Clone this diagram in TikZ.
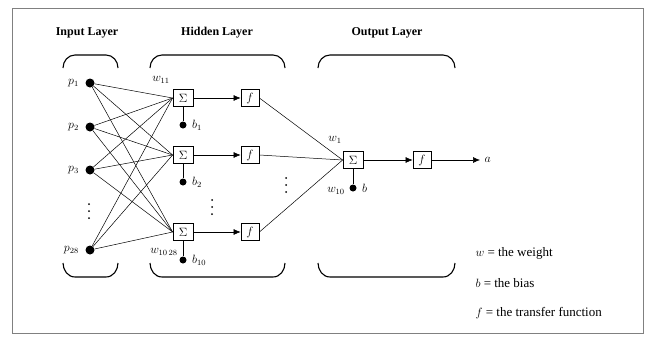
\documentclass[tikz,border=0pt]{standalone}
\usepackage{fontspec}
\setmainfont{Liberation Serif}
\usetikzlibrary{positioning, arrows.meta}

\tikzset{
  sumbox/.style={draw, thick, minimum width=20pt, minimum height=17pt, inner sep=0pt, fill=white},
  tfbox/.style={draw, thick, minimum width=18pt, minimum height=17pt, inner sep=0pt, fill=white},
  indot/.style={circle, fill, inner sep=0pt, minimum size=9pt},
  bdot/.style={circle, fill, inner sep=0pt, minimum size=7pt},
  layer/.style={font=\fontsize{12}{14}\selectfont\bfseries},
  legend/.style={anchor=west, font=\fontsize{13}{15}\selectfont},
  brace/.style={line width=1.1pt},
  conn/.style={line width=0.5pt},
  sig/.style={-{Latex[length=7pt,width=6pt]}, line width=0.6pt}
}

\begin{document}
\begin{tikzpicture}[x=1pt, y=-1pt, every node/.style={font=\fontsize{12}{14}\selectfont}]
      \useasboundingbox (0,0) rectangle (650,340);
      \draw[gray, line width=1pt] (12,8) rectangle (643,333);

      % layer titles
      \node[layer] (tin) at (87, 33) {Input Layer};
      \node[layer] (thid) at (217, 33) {Hidden Layer};
      \node[layer] (tout) at (387, 33) {Output Layer};

      % braces
      \foreach \a/\b in {63/118, 150/285, 318/455} {
        \draw[brace] (\a,68) to[out=90, in=180] (\a+12,55) -- (\b-12,55) to[out=0, in=90] (\b,68);
        \draw[brace] (\a,263) to[out=-90, in=180] (\a+12,277) -- (\b-12,277) to[out=0, in=-90] (\b,263);
      }

      % inputs
      \node[indot] (in1) at (90, 83) {};
      \node[indot] (in2) at (90, 127) {};
      \node[indot] (in3) at (90, 170) {};
      \node[indot] (in28) at (90, 250) {};
      \node[left=3pt of in1] (lp1) {$p_1$};
      \node[left=3pt of in2] (lp2) {$p_2$};
      \node[left=3pt of in3] (lp3) {$p_3$};
      \node[left=3pt of in28] (lp28) {$p_{28}$};

      % hidden layer
      \node[sumbox] (sum1) at (183, 98) {$\Sigma$};
      \node[sumbox] (sum2) at (183, 155) {$\Sigma$};
      \node[sumbox] (sum10) at (183, 232) {$\Sigma$};
      \node[tfbox] (tf1) at (250, 98) {$f$};
      \node[tfbox] (tf2) at (250, 155) {$f$};
      \node[tfbox] (tf10) at (250, 232) {$f$};
      \node[bdot] (b1) at (183, 125) {};
      \node[bdot] (b2) at (183, 182) {};
      \node[bdot] (b10) at (183, 260) {};
      \node[right=2pt of b1] (lb1) {$b_1$};
      \node[right=2pt of b2] (lb2) {$b_2$};
      \node[right=2pt of b10] (lb10) {$b_{10}$};
      \node (lw11) at (161, 80) {$w_{11}$};
      \node (lw1028) at (164, 252) {$w_{10\,28}$};

      % vertical dots
      \foreach \x/\y in {89/204, 212/200, 286/178} {
        \foreach \k in {0,1,2}
          \fill (\x, \y+\k*7) circle (1pt);
      }

      \foreach \i in {1,2,3,28} {
        \foreach \j in {1,2,10} {
          \draw[conn] (in\i) -- (sum\j.west);
        }
      }
      \foreach \j in {1,2,10} {
        \draw[sig] (sum\j) -- (tf\j);
        \draw[conn] (sum\j) -- (b\j);
      }

      % output layer
      \node[sumbox] (osum) at (353, 160) {$\Sigma$};
      \node[tfbox] (otf) at (422, 160) {$f$};
      \node[bdot] (ob) at (353, 188) {};
      \node[right=2pt of ob] (lob) {$b$};
      \coordinate (oa) at (480, 160);
      \node[right=1pt of oa] (la) {$a$};
      \node (lw1) at (335, 140) {$w_1$};
      \node (lw10) at (336, 191) {$w_{10}$};

      \foreach \j in {1,2,10} {
        \draw[conn] (tf\j.east) -- (osum.west);
      }
      \draw[sig] (osum) -- (otf);
      \draw[sig] (otf) -- (oa);
      \draw[conn] (osum) -- (ob);

      % legend
      \node[legend] (leg1) at (472, 253) {$w$ = the weight};
      \node[legend] (leg2) at (472, 283) {$b$ = the bias};
      \node[legend] (leg3) at (472, 313) {$f$ = the transfer function};
\end{tikzpicture}
\end{document}
